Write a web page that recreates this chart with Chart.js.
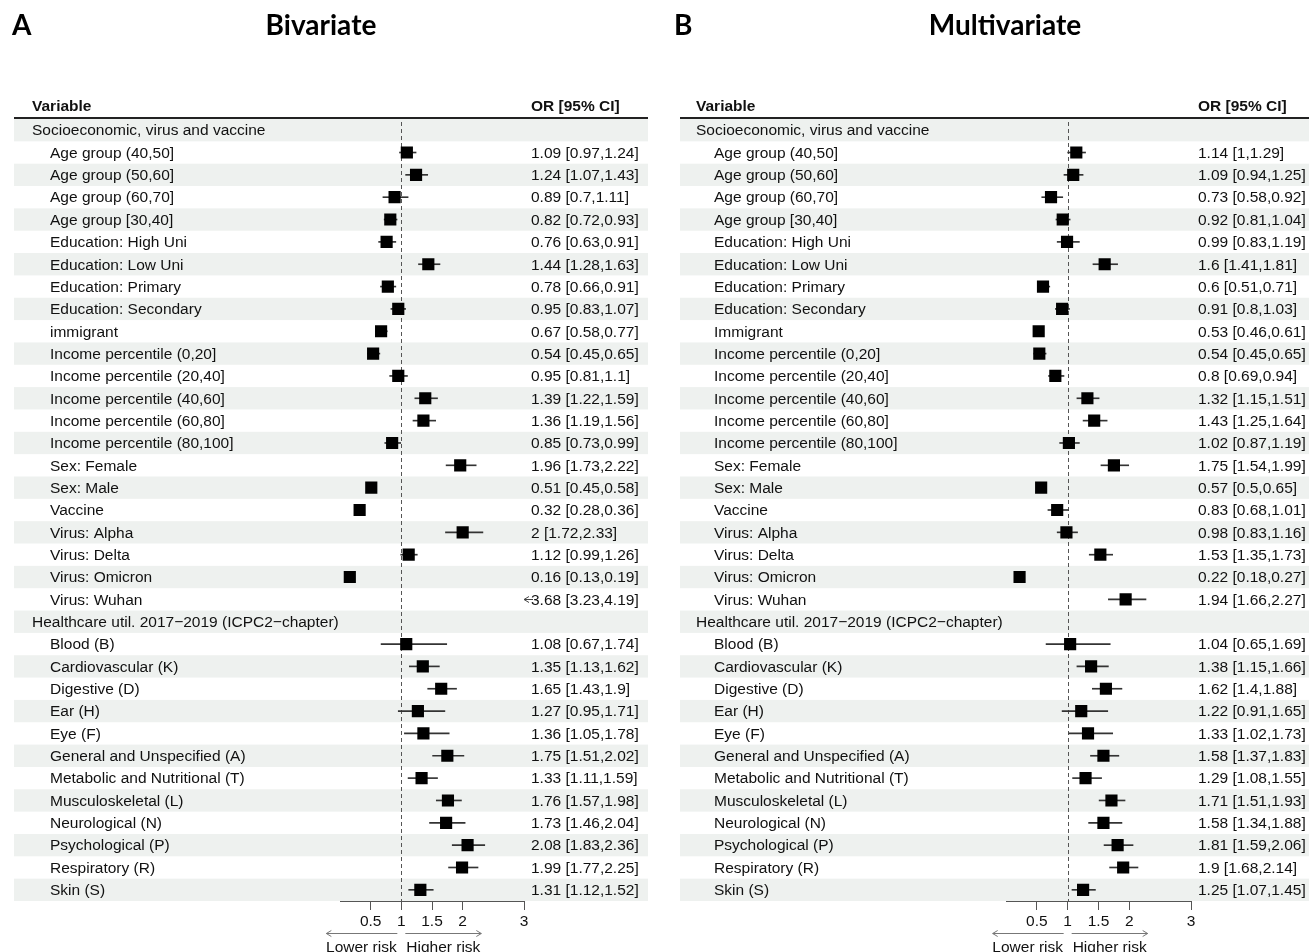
<!DOCTYPE html>
<html>
<head>
<meta charset="utf-8">
<script src="https://cdn.jsdelivr.net/npm/chart.js@4.4.1/dist/chart.umd.min.js"></script>
<style>
  html, body { margin: 0; padding: 0; background: #fff; overflow: hidden; }
  #wrap { position: relative; width: 1309px; height: 952px; }
  canvas { position: absolute; top: 0; }
</style>
</head>
<body>
<div id="wrap">
  <canvas id="panelA" width="666" height="952" style="left:0px"></canvas>
  <canvas id="panelB" width="643" height="952" style="left:666px"></canvas>
</div>
<script>
// ---- Row groups and variable names ----
const groupSocio = "Socioeconomic, virus and vaccine";
const groupHealth = "Healthcare util. 2017−2019 (ICPC2−chapter)";

const socioVarsBiv = [
  "Age group (40,50]", "Age group (50,60]", "Age group (60,70]", "Age group [30,40]",
  "Education: High Uni", "Education: Low Uni", "Education: Primary", "Education: Secondary",
  "immigrant",
  "Income percentile (0,20]", "Income percentile (20,40]", "Income percentile (40,60]",
  "Income percentile (60,80]", "Income percentile (80,100]",
  "Sex: Female", "Sex: Male", "Vaccine",
  "Virus: Alpha", "Virus: Delta", "Virus: Omicron", "Virus: Wuhan"
];
const socioVarsMulti = [
  "Age group (40,50]", "Age group (50,60]", "Age group (60,70]", "Age group [30,40]",
  "Education: High Uni", "Education: Low Uni", "Education: Primary", "Education: Secondary",
  "Immigrant",
  "Income percentile (0,20]", "Income percentile (20,40]", "Income percentile (40,60]",
  "Income percentile (60,80]", "Income percentile (80,100]",
  "Sex: Female", "Sex: Male", "Vaccine",
  "Virus: Alpha", "Virus: Delta", "Virus: Omicron", "Virus: Wuhan"
];
const healthVars = [
  "Blood (B)", "Cardiovascular (K)", "Digestive (D)", "Ear (H)", "Eye (F)",
  "General and Unspecified (A)", "Metabolic and Nutritional (T)", "Musculoskeletal (L)",
  "Neurological (N)", "Psychological (P)", "Respiratory (R)", "Skin (S)"
];

// ---- Odds ratios with 95% CI: bivariate ----
const orBiv = [1.09, 1.24, 0.89, 0.82, 0.76, 1.44, 0.78, 0.95, 0.67, 0.54, 0.95, 1.39, 1.36, 0.85,
  1.96, 0.51, 0.32, 2, 1.12, 0.16, 3.68,
  1.08, 1.35, 1.65, 1.27, 1.36, 1.75, 1.33, 1.76, 1.73, 2.08, 1.99, 1.31];
const loBiv = [0.97, 1.07, 0.7, 0.72, 0.63, 1.28, 0.66, 0.83, 0.58, 0.45, 0.81, 1.22, 1.19, 0.73,
  1.73, 0.45, 0.28, 1.72, 0.99, 0.13, 3.23,
  0.67, 1.13, 1.43, 0.95, 1.05, 1.51, 1.11, 1.57, 1.46, 1.83, 1.77, 1.12];
const hiBiv = [1.24, 1.43, 1.11, 0.93, 0.91, 1.63, 0.91, 1.07, 0.77, 0.65, 1.1, 1.59, 1.56, 0.99,
  2.22, 0.58, 0.36, 2.33, 1.26, 0.19, 4.19,
  1.74, 1.62, 1.9, 1.71, 1.78, 2.02, 1.59, 1.98, 2.04, 2.36, 2.25, 1.52];

// ---- Odds ratios with 95% CI: multivariate ----
const orMulti = [1.14, 1.09, 0.73, 0.92, 0.99, 1.6, 0.6, 0.91, 0.53, 0.54, 0.8, 1.32, 1.43, 1.02,
  1.75, 0.57, 0.83, 0.98, 1.53, 0.22, 1.94,
  1.04, 1.38, 1.62, 1.22, 1.33, 1.58, 1.29, 1.71, 1.58, 1.81, 1.9, 1.25];
const loMulti = [1, 0.94, 0.58, 0.81, 0.83, 1.41, 0.51, 0.8, 0.46, 0.45, 0.69, 1.15, 1.25, 0.87,
  1.54, 0.5, 0.68, 0.83, 1.35, 0.18, 1.66,
  0.65, 1.15, 1.4, 0.91, 1.02, 1.37, 1.08, 1.51, 1.34, 1.59, 1.68, 1.07];
const hiMulti = [1.29, 1.25, 0.92, 1.04, 1.19, 1.81, 0.71, 1.03, 0.61, 0.65, 0.94, 1.51, 1.64, 1.19,
  1.99, 0.65, 1.01, 1.16, 1.73, 0.27, 2.27,
  1.69, 1.66, 1.88, 1.65, 1.73, 1.83, 1.55, 1.93, 1.88, 2.06, 2.14, 1.45];

// ---- Axis ----
const xTickValues = [0.5, 1, 1.5, 2, 3];
const xMin = 0, xMax = 3;

const FONT = '"Liberation Sans", Arial, sans-serif';
const TXT = 15.5;

function buildRows(socioVars, or, lo, hi) {
  const rows = [{ label: groupSocio, group: true }];
  socioVars.forEach((v, i) => rows.push({ label: v, or: or[i], lo: lo[i], hi: hi[i] }));
  rows.push({ label: groupHealth, group: true });
  healthVars.forEach((v, j) => {
    const i = socioVars.length + j;
    rows.push({ label: v, or: or[i], lo: lo[i], hi: hi[i] });
  });
  return rows;
}

function arrowHead(ctx, x, y, dir, size) {
  ctx.beginPath();
  ctx.moveTo(x - dir * size, y - size * 0.6);
  ctx.lineTo(x, y);
  ctx.lineTo(x - dir * size, y + size * 0.6);
  ctx.stroke();
}

function makePanel(canvasId, rows, cfg) {
  const labels = rows.map(r => r.label);
  const items = rows.filter(r => !r.group);

  const forestTable = {
    id: 'forestTable',
    beforeDraw(chart) {
      const ctx = chart.ctx;
      const ys = chart.scales.y;
      const pitch = ys.getPixelForValue(1) - ys.getPixelForValue(0);
      ctx.save();
      ctx.fillStyle = '#fff';
      ctx.fillRect(0, 0, chart.width, chart.height);
      // zebra shading
      ctx.fillStyle = '#eef1ef';
      rows.forEach((r, i) => {
        if (i % 2 === 0) {
          const y = ys.getPixelForValue(i);
          ctx.fillRect(cfg.shadeLeft, y - pitch / 2, cfg.shadeRight - cfg.shadeLeft, pitch);
        }
      });
      // header rule
      ctx.fillStyle = '#222';
      ctx.fillRect(cfg.shadeLeft, chart.chartArea.top - 2, cfg.shadeRight - cfg.shadeLeft, 2);
      ctx.restore();
    },
    beforeDatasetsDraw(chart) {
      const ctx = chart.ctx;
      const x1 = Math.round(chart.scales.x.getPixelForValue(1)) + 0.5;
      ctx.save();
      ctx.strokeStyle = '#555';
      ctx.lineWidth = 1;
      ctx.setLineDash([4, 3]);
      ctx.beginPath();
      ctx.moveTo(x1, chart.chartArea.top + 3);
      ctx.lineTo(x1, chart.chartArea.bottom);
      ctx.stroke();
      ctx.restore();
    },
    afterDraw(chart) {
      const ctx = chart.ctx;
      const ys = chart.scales.y;
      const xs = chart.scales.x;
      const area = chart.chartArea;
      ctx.save();
      // panel letter and title
      ctx.fillStyle = '#000';
      ctx.textBaseline = 'middle';
      ctx.font = 'bold 28px Lato, "Open Sans", sans-serif';
      ctx.textAlign = 'left';
      ctx.fillText(cfg.letter, cfg.letterX, 26);
      ctx.textAlign = 'center';
      ctx.fillText(cfg.title, cfg.titleX, 26);

      // column headers
      ctx.fillStyle = '#111';
      ctx.textAlign = 'left';
      ctx.font = 'bold ' + TXT + 'px ' + FONT;
      ctx.fillText('Variable', cfg.varX, 107);
      ctx.fillText('OR [95% CI]', cfg.textX, 107);

      // row labels and estimates
      ctx.font = TXT + 'px ' + FONT;
      rows.forEach((r, i) => {
        const y = ys.getPixelForValue(i) + 1;
        if (r.group) {
          ctx.fillText(r.label, cfg.varX, y);
        } else {
          ctx.fillText(r.label, cfg.itemX, y);
          ctx.fillText(r.or + ' [' + r.lo + ',' + r.hi + ']', cfg.textX, y);
        }
      });

      // estimates beyond the axis range
      ctx.strokeStyle = '#444';
      ctx.lineWidth = 1;
      rows.forEach((r, i) => {
        if (!r.group && r.lo > xMax) {
          const y = Math.round(ys.getPixelForValue(i)) + 0.5;
          const xa = area.right;
          ctx.beginPath();
          ctx.moveTo(xa, y);
          ctx.lineTo(xa + 9, y);
          ctx.stroke();
          arrowHead(ctx, xa, y, -1, 5);
        }
      });

      // risk direction arrows
      const x1 = xs.getPixelForValue(1);
      const ay = 933.5;
      ctx.strokeStyle = '#777';
      ctx.beginPath();
      ctx.moveTo(x1 - 4, ay); ctx.lineTo(x1 - 75, ay);
      ctx.moveTo(x1 + 4, ay); ctx.lineTo(x1 + 80, ay);
      ctx.stroke();
      arrowHead(ctx, x1 - 75, ay, -1, 5);
      arrowHead(ctx, x1 + 80, ay, 1, 5);
      ctx.fillStyle = '#111';
      ctx.textBaseline = 'alphabetic';
      ctx.textAlign = 'center';
      ctx.font = TXT + 'px ' + FONT;
      ctx.fillText('Lower risk', x1 - 40, 952);
      ctx.fillText('Higher risk', x1 + 42, 952);
      ctx.restore();
    }
  };

  return new Chart(document.getElementById(canvasId), {
    type: 'bar',
    data: {
      labels: labels,
      datasets: [
        {
          type: 'bar',
          indexAxis: 'y',
          data: rows.map(r => r.group ? null : [r.lo, r.hi]),
          backgroundColor: '#333',
          borderWidth: 0,
          barThickness: 1,
          grouped: false,
          order: 2
        },
        {
          type: 'scatter',
          data: items.map(r => ({ x: r.or, y: r.label })),
          pointStyle: 'rect',
          pointRadius: 8.6,
          pointHoverRadius: 8.6,
          backgroundColor: '#000',
          borderWidth: 0,
          order: 1
        }
      ]
    },
    options: {
      indexAxis: 'y',
      responsive: false,
      animation: false,
      events: [],
      layout: { padding: { left: cfg.padLeft, right: cfg.padRight, top: 119, bottom: 21 } },
      plugins: { legend: { display: false }, tooltip: { enabled: false }, title: { display: false } },
      scales: {
        x: {
          type: 'linear',
          position: 'bottom',
          min: xMin,
          max: xMax,
          afterBuildTicks: scale => { scale.ticks = xTickValues.map(v => ({ value: v })); },
          afterFit: scale => { scale.height = 30; },
          grid: { display: true, drawOnChartArea: false, drawTicks: true, tickLength: 9, color: '#555', lineWidth: 1 },
          border: { display: true, color: '#555', width: 1 },
          ticks: {
            color: '#111', padding: 2, maxRotation: 0, autoSkip: false,
            font: { family: FONT, size: TXT },
            callback: v => String(v)
          }
        },
        y: {
          type: 'category',
          display: false,
          offset: true
        }
      }
    },
    plugins: [forestTable]
  });
}

makePanel('panelA', buildRows(socioVarsBiv, orBiv, loBiv, hiBiv), {
  letter: 'A', letterX: 12, title: 'Bivariate', titleX: 321,
  shadeLeft: 14, shadeRight: 648, varX: 32, itemX: 50, textX: 531,
  padLeft: 340, padRight: 142
});
makePanel('panelB', buildRows(socioVarsMulti, orMulti, loMulti, hiMulti), {
  letter: 'B', letterX: 8, title: 'Multivariate', titleX: 339,
  shadeLeft: 14, shadeRight: 643, varX: 30, itemX: 48, textX: 532,
  padLeft: 340, padRight: 118
});
</script>
</body>
</html>
